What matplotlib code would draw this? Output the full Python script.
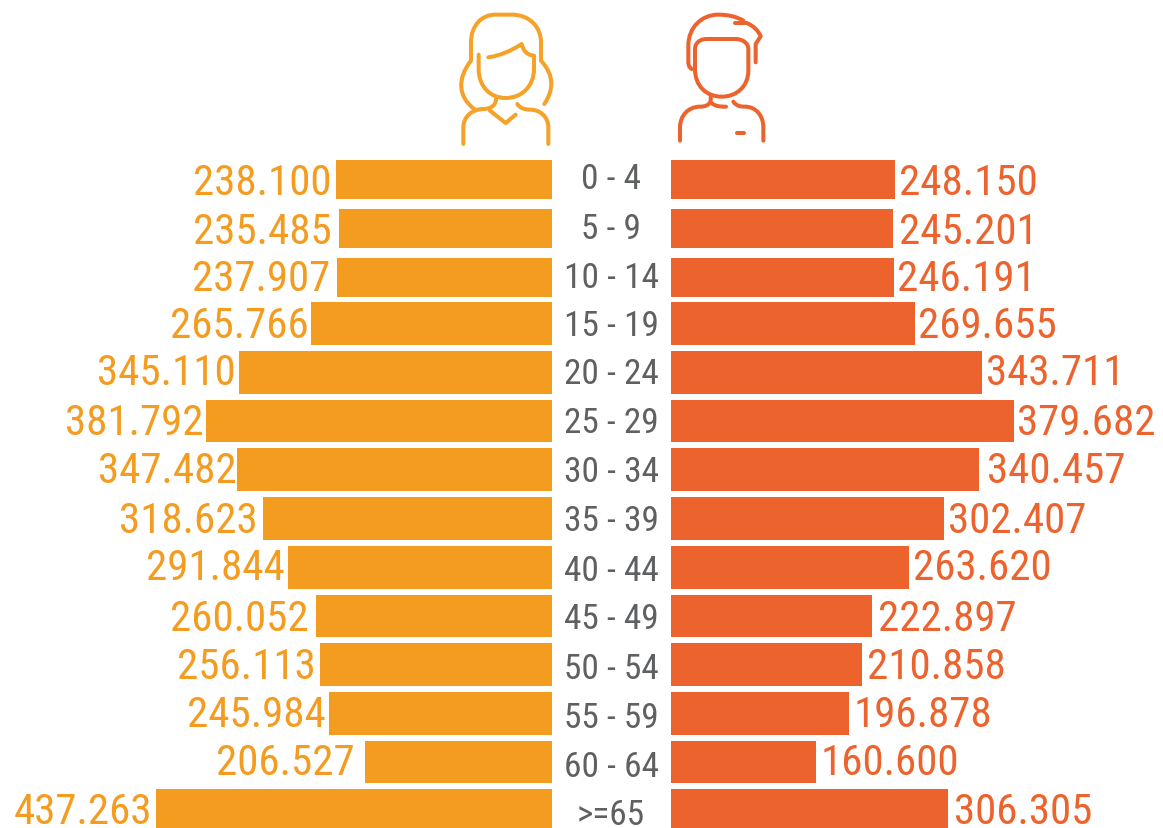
import matplotlib
matplotlib.use("Agg")
import matplotlib.pyplot as plt
from matplotlib.path import Path
from matplotlib.patches import PathPatch

W, H = 1163, 829
ages = ["0 - 4","5 - 9","10 - 14","15 - 19","20 - 24","25 - 29","30 - 34","35 - 39","40 - 44","45 - 49","50 - 54","55 - 59","60 - 64",">=65"]
female = [238100,235485,237907,265766,345110,381792,347482,318623,291844,260052,256113,245984,206527,437263]
male = [248150,245201,246191,269655,343711,379682,340457,302407,263620,222897,210858,196878,160600,306305]
female_labels = ["238.100","235.485","237.907","265.766","345.110","381.792","347.482","318.623","291.844","260.052","256.113","245.984","206.527","437.263"]
male_labels = ["248.150","245.201","246.191","269.655","343.711","379.682","340.457","302.407","263.620","222.897","210.858","196.878","160.600","306.305"]

OR, RD, GR = "#F49C20", "#EC632D", "#5F6062"
font = "Roboto Condensed"

fig = plt.figure(figsize=(W/100, H/100), dpi=100)
bg = fig.add_axes([0,0,1,1]); bg.set_xlim(0,W); bg.set_ylim(H,0); bg.axis("off")
axl = fig.add_axes([0,0,552/W,1]); axl.patch.set_alpha(0)
axr = fig.add_axes([671/W,0,(W-671)/W,1]); axr.patch.set_alpha(0)
scale_f, scale_m = 396/437263, 0.000904
axl.set_xlim(552/scale_f,0); axr.set_xlim(0,(W-671)/scale_m)
for ax in (axl,axr):
    ax.set_ylim(H,0); ax.axis("off")

tops = [160,209,258,302,351,400,448,497,546,595,643,692,741,789]
bots = [199,248,297,345,394,442,491,540,589,637,686,735,783,828]
ys = [(a+b)/2+0.5 for a,b in zip(tops,bots)]
hs = [b-a for a,b in zip(tops,bots)]
axl.barh(ys,female,height=hs,color=OR)
axr.barh(ys,male,height=hs,color=RD)

fs = 31
f_gap = [5,7,6,3,4,3,1,6,3,8,4,3,10,4]
m_gap = [4,6,3,3,4,3,8,4,4,6,5,5,4,6]
val_dy = [-1,-1,-3,-2,-4,-2.5,-3,-2,-4,-1.5,-2,-3,-3.5,-1]
age_dy = [-4,-3,-3,-1,-2,-1.5,-1,-1,0,-0.5,1,1,1.5,3]
for y,f,l,g,d in zip(ys,female,female_labels,f_gap,val_dy):
    axl.annotate(l,(f,y),xytext=(-g,-d),textcoords="offset pixels",ha="right",va="center_baseline",
                 color=OR,fontsize=fs,family=font,annotation_clip=False)
for y,m,l,g,d in zip(ys,male,male_labels,m_gap,val_dy):
    axr.annotate(l,(m,y),xytext=(g,-d),textcoords="offset pixels",ha="left",va="center_baseline",
                 color=RD,fontsize=fs,family=font,annotation_clip=False)
for y,a,d in zip(ys,ages,age_dy):
    bg.text(611,y+d,a,ha="center",va="center_baseline",color=GR,fontsize=25.5,family=font)

def icon(segments, color):
    for seg in segments:
        verts, codes = [], []
        for i, part in enumerate(seg):
            pts = [(440+x/3, y/3) for x, y in part]
            if i == 0:
                verts.append(pts[0]); codes.append(Path.MOVETO)
            elif len(pts) == 1:
                verts.append(pts[0]); codes.append(Path.LINETO)
            else:
                verts += pts; codes += [Path.CURVE4]*3
        bg.add_patch(PathPatch(Path(verts,codes),fill=False,edgecolor=color,lw=2.9,capstyle="round",joinstyle="round"))

woman = [
    [[(103,330)],[(55,295),(50,240),(93,185)],[(93,130)],[(93,80),(125,47),(165,47)],[(215,47)],[(270,47),(303,85),(303,130)],[(303,185)],[(345,230),(340,275),(313,315)]],
    [[(116,167)],[(116,210)],[(116,262),(150,297),(197,297)],[(245,297),(282,262),(282,210)],[(282,170)],[(260,168),(250,155),(245,135)],[(215,155),(180,170),(145,175)]],
    [[(168,300)],[(168,320),(150,330),(130,330)],[(95,330),(70,355),(70,385)],[(70,435)]],
    [[(150,335)],[(197,372)],[(227,347)]],
    [[(232,315)],[(240,328),(255,332),(270,332)],[(302,332),(325,355),(325,385)],[(325,435)]],
]
man = [
    [[(755,210)],[(745,203),(745,195),(745,185)],[(745,140)],[(745,85),(785,47),(835,47)],[(865,47),(890,53),(910,65)]],
    [[(885,72)],[(920,72)],[(940,80),(955,95),(962,112)],[(947,135)],[(947,190)]],
    [[(765,210)],[(765,150)],[(765,132),(780,120),(800,120)],[(885,120)],[(908,120),(925,132),(925,150)],[(925,215)],[(925,262),(890,293),(845,293)],[(800,293),(765,262),(765,210)]],
    [[(812,295)],[(815,315),(800,323),(780,323)],[(745,323),(720,350),(720,385)],[(720,425)]],
    [[(815,312)],[(825,322),(840,323),(858,323)]],
    [[(880,308)],[(888,320),(900,323),(915,323)],[(948,323),(970,350),(970,385)],[(970,425)]],
    [[(890,403)],[(912,403)]],
]
icon(woman, "#F6A128")
icon(man, RD)

fig.savefig("out.png",dpi=100)
